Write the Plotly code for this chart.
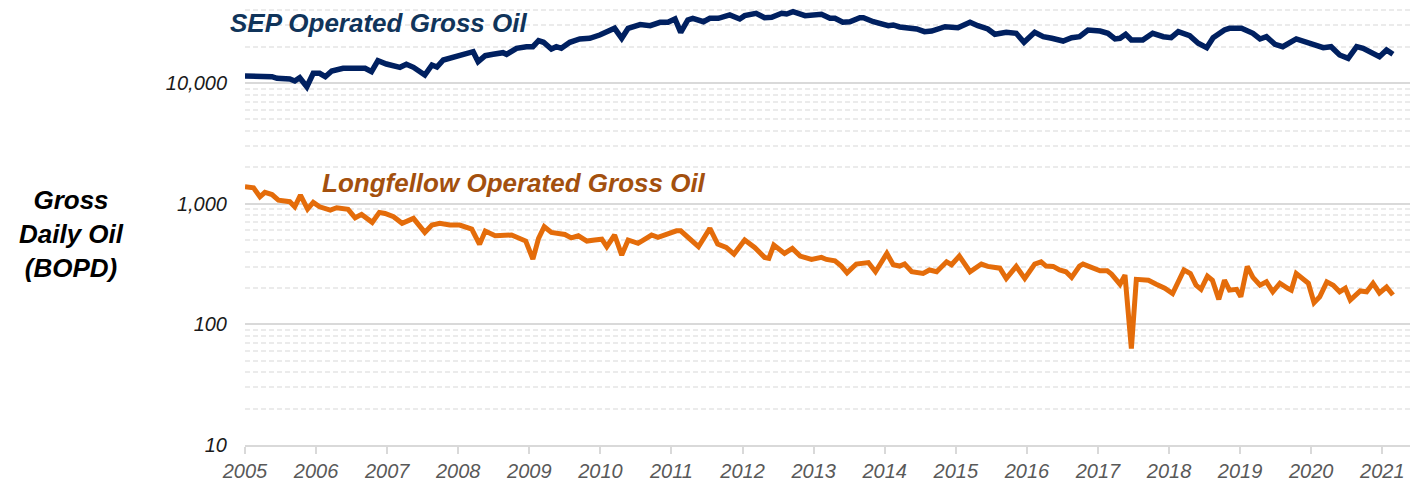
import plotly.graph_objects as go

# ---- data (decimal years, barrels of oil per day) ----
sep_years = [2005.00, 2005.38, 2005.45, 2005.63, 2005.70, 2005.77, 2005.87, 2005.96, 2006.05, 2006.13,
             2006.22, 2006.38, 2006.69, 2006.78, 2006.87, 2006.99, 2007.18, 2007.27, 2007.37, 2007.53,
             2007.63, 2007.70, 2007.79, 2007.93, 2008.12, 2008.21, 2008.28, 2008.38, 2008.49, 2008.63,
             2008.68, 2008.82, 2008.96, 2009.05, 2009.13, 2009.20, 2009.31, 2009.38, 2009.45, 2009.57,
             2009.71, 2009.85, 2009.99, 2010.13, 2010.20, 2010.30, 2010.39, 2010.56, 2010.70, 2010.84,
             2010.95, 2011.05, 2011.13, 2011.23, 2011.30, 2011.45, 2011.54, 2011.66, 2011.82, 2011.96,
             2012.03, 2012.19, 2012.31, 2012.41, 2012.55, 2012.62, 2012.71, 2012.88, 2013.11, 2013.23,
             2013.30, 2013.41, 2013.51, 2013.65, 2013.70, 2013.84, 2014.05, 2014.12, 2014.21, 2014.45,
             2014.56, 2014.66, 2014.85, 2015.03, 2015.20, 2015.31, 2015.45, 2015.55, 2015.71, 2015.85,
             2015.96, 2016.11, 2016.23, 2016.35, 2016.51, 2016.63, 2016.74, 2016.86, 2017.03, 2017.14,
             2017.24, 2017.31, 2017.39, 2017.47, 2017.63, 2017.77, 2017.92, 2018.03, 2018.13, 2018.29,
             2018.41, 2018.53, 2018.62, 2018.78, 2018.85, 2019.02, 2019.18, 2019.28, 2019.37, 2019.49,
             2019.60, 2019.79, 2019.98, 2020.17, 2020.28, 2020.40, 2020.52, 2020.64, 2020.73, 2020.82,
             2020.96, 2021.06, 2021.15]
sep_bopd = [11430, 11280, 10940, 10790, 10390, 11070, 9320, 12030, 12030, 11280,
            12570, 13240, 13240, 12410, 15310, 14370, 13490, 14290, 13490, 11650,
            14100, 13580, 15520, 16330, 17300, 18190, 15020, 16840, 17300, 17830,
            17300, 19400, 20000, 20000, 22430, 21760, 19140, 20000, 19400, 21760,
            23170, 23480, 25000, 27510, 28410, 23480, 28410, 30500, 29870, 31850,
            31850, 33950, 26320, 33290, 34390, 32230, 34390, 34390, 36630, 33950,
            36150, 37840, 34780, 35030, 37840, 37330, 39000, 36150, 37150, 34390,
            34390, 31850, 32230, 34780, 34780, 32230, 29870, 30270, 29130, 28040,
            26630, 26980, 29300, 28740, 31850, 29870, 28040, 25340, 26320, 25830,
            21760, 26320, 24210, 23480, 22290, 23750, 24210, 27510, 26980, 25830,
            23170, 23480, 25340, 22730, 22730, 25830, 24210, 23750, 26630, 24670,
            21330, 19630, 23750, 27510, 28410, 28410, 25830, 23170, 24210, 20940,
            20000, 23170, 21330, 19630, 20000, 17070, 16020, 20000, 19400, 18190,
            16520, 18780, 17300]

lf_years = [2005.00, 2005.12, 2005.21, 2005.28, 2005.38, 2005.47, 2005.63, 2005.70, 2005.78, 2005.88,
            2005.96, 2006.05, 2006.20, 2006.29, 2006.45, 2006.55, 2006.64, 2006.79, 2006.89, 2006.97,
            2007.09, 2007.21, 2007.37, 2007.53, 2007.63, 2007.74, 2007.88, 2008.02, 2008.19, 2008.30,
            2008.38, 2008.52, 2008.75, 2008.87, 2008.95, 2009.05, 2009.13, 2009.21, 2009.31, 2009.50,
            2009.59, 2009.69, 2009.81, 2009.92, 2010.02, 2010.09, 2010.20, 2010.30, 2010.39, 2010.53,
            2010.72, 2010.81, 2010.95, 2011.07, 2011.13, 2011.26, 2011.38, 2011.54, 2011.65, 2011.77,
            2011.88, 2012.03, 2012.17, 2012.31, 2012.37, 2012.44, 2012.59, 2012.70, 2012.81, 2012.97,
            2013.11, 2013.18, 2013.30, 2013.39, 2013.47, 2013.60, 2013.77, 2013.87, 2014.03, 2014.12,
            2014.21, 2014.28, 2014.38, 2014.54, 2014.63, 2014.73, 2014.87, 2014.94, 2015.05, 2015.20,
            2015.36, 2015.45, 2015.62, 2015.71, 2015.85, 2015.97, 2016.11, 2016.20, 2016.27, 2016.37,
            2016.46, 2016.55, 2016.63, 2016.74, 2016.79, 2017.03, 2017.13, 2017.19, 2017.31, 2017.38,
            2017.47, 2017.54, 2017.71, 2017.82, 2017.94, 2018.05, 2018.13, 2018.21, 2018.30, 2018.38,
            2018.45, 2018.54, 2018.61, 2018.70, 2018.78, 2018.85, 2018.95, 2019.01, 2019.10, 2019.18,
            2019.28, 2019.37, 2019.46, 2019.56, 2019.67, 2019.72, 2019.79, 2019.89, 2019.96, 2020.04,
            2020.12, 2020.22, 2020.31, 2020.40, 2020.48, 2020.55, 2020.69, 2020.78, 2020.87, 2020.96,
            2021.06, 2021.15]
lf_bopd = [1380, 1355, 1140, 1240, 1190, 1070, 1038, 942, 1178, 902,
           1025, 942, 885, 925, 897, 764, 815, 700, 847, 830,
           779, 687, 755, 578, 665, 687, 665, 665, 616, 460,
           593, 542, 550, 508, 490, 347, 516, 644, 578, 556,
           521, 542, 490, 500, 508, 440, 550, 375, 500, 469,
           550, 526, 560, 596, 596, 506, 440, 624, 462, 434,
           382, 500, 434, 359, 352, 454, 387, 426, 368, 345,
           359, 345, 336, 304, 267, 316, 325, 273, 387, 312,
           304, 316, 273, 264, 282, 273, 330, 312, 368, 273,
           316, 302, 292, 240, 302, 240, 316, 330, 304, 302,
           282, 273, 245, 304, 316, 278, 278, 261, 215, 256,
           63, 236, 232, 215, 199, 180, 225, 282, 264, 211,
           195, 251, 232, 161, 232, 192, 195, 169, 302, 245,
           211, 225, 186, 219, 199, 192, 264, 232, 219, 151,
           169, 225, 211, 186, 199, 159, 189, 186, 219, 182,
           204, 175]

year_ticks = list(range(2005, 2022))
y_ticks = [10, 100, 1000, 10000]
y_tick_text = ["10", "100", "1,000", "10,000"]
minor_ticks = [m * 10 ** k for k in range(1, 5) for m in range(2, 10) if m * 10 ** k <= 50000]

FONT = "Liberation Sans, Arial, sans-serif"
W, H = 1412, 483
ML, MR, MT, MB = 245, 2, 0, 38
PW, PH = W - ML - MR, H - MT - MB


def px_to_paper(px, py):
    return (px - ML) / PW, (H - MB - py) / PH


fig = go.Figure()
fig.add_trace(go.Scatter(x=sep_years, y=sep_bopd, mode="lines",
                         line=dict(color="#002060", width=5.5), showlegend=False))
fig.add_trace(go.Scatter(x=lf_years, y=lf_bopd, mode="lines",
                         line=dict(color="#E46C0A", width=5), showlegend=False))

fig.update_layout(
    width=W, height=H,
    margin=dict(l=ML, r=MR, t=MT, b=MB, pad=0),
    paper_bgcolor="white", plot_bgcolor="white",
    font=dict(family=FONT),
    xaxis=dict(
        range=[2005, 2021.39], tickmode="array", tickvals=year_ticks,
        ticktext=[str(y) for y in year_ticks],
        ticks="outside", ticklen=7, tickwidth=1.5, tickcolor="#d9d9d9",
        showline=True, linecolor="#d9d9d9", linewidth=2,
        showgrid=False, zeroline=False,
        tickfont=dict(family=FONT, size=20, color="#595959", style="italic"),
    ),
    yaxis=dict(
        type="log", range=[1, 4.688], tickmode="array", tickvals=y_ticks,
        ticktext=y_tick_text, ticks="", ticklabelstandoff=17,
        showgrid=True, gridcolor="#d9d9d9", gridwidth=2,
        showline=False, zeroline=False,
        tickfont=dict(family=FONT, size=20, color="#1a1a1a", style="italic"),
        minor=dict(tickmode="array", tickvals=minor_ticks, showgrid=True,
                   gridcolor="#ebebeb", gridwidth=1.5, griddash="5px,3px", ticks=""),
    ),
)

ax, ay = px_to_paper(71, 234)
fig.add_annotation(xref="paper", yref="paper", x=ax, y=ay, xanchor="center", yanchor="middle",
                   text="Gross<br>Daily Oil<br>(BOPD)", showarrow=False, align="center",
                   font=dict(family=FONT, size=26, color="#000000", weight="bold", style="italic"))

sx, sy = px_to_paper(228, 23)
fig.add_annotation(xref="paper", yref="paper", x=sx, y=sy, xanchor="left", yanchor="middle",
                   text="SEP Operated Gross Oil", showarrow=False,
                   font=dict(family=FONT, size=26, color="#10345A", weight="bold", style="italic"))

lx, ly = px_to_paper(320, 183)
fig.add_annotation(xref="paper", yref="paper", x=lx, y=ly, xanchor="left", yanchor="middle",
                   text="Longfellow Operated Gross Oil", showarrow=False,
                   font=dict(family=FONT, size=26, color="#A3500E", weight="bold", style="italic"))

fig.write_html("out.html", config={"displayModeBar": False},
               post_script="document.body.style.margin='0';document.body.style.overflow='hidden';")
